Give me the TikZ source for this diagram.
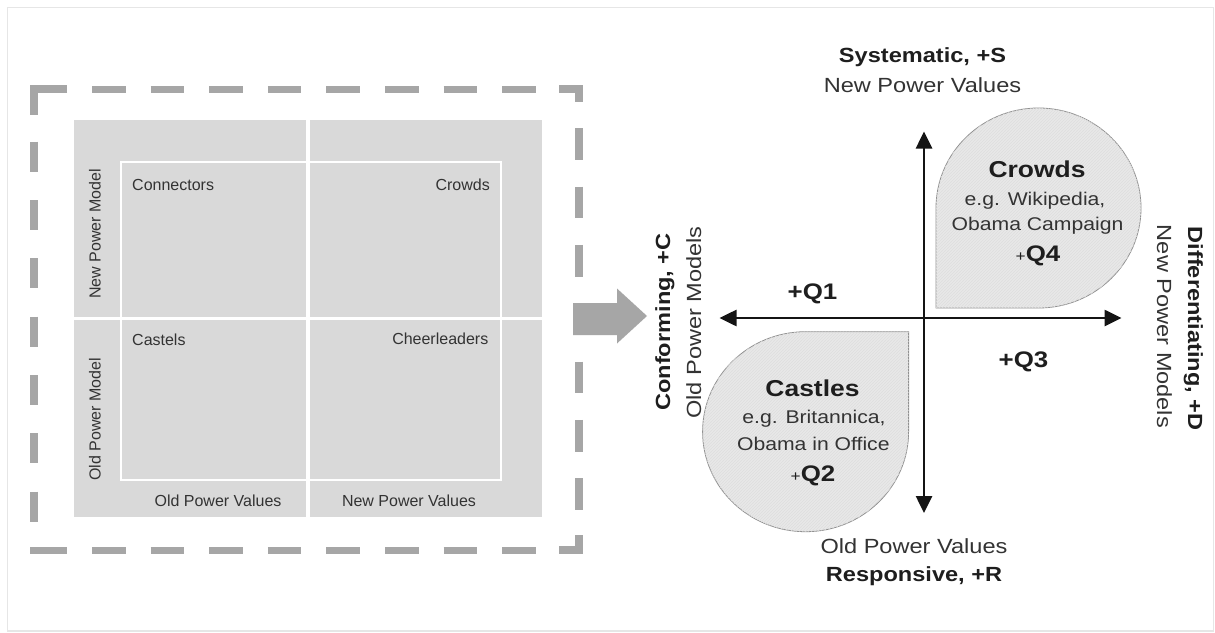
\documentclass[tikz,border=0pt]{standalone}
\usepackage{fontspec}
\setmainfont{Liberation Sans}
\newfontfamily\widefont[FakeStretch=1.15]{Liberation Sans}
\usetikzlibrary{arrows.meta,patterns}
\definecolor{dashgray}{HTML}{A6A6A6}
\definecolor{panelgray}{HTML}{D9D9D9}
\definecolor{framegray}{HTML}{E6E6E6}
\definecolor{dropfill}{HTML}{E8E8E8}
\definecolor{dropline}{HTML}{909090}
\definecolor{txt}{HTML}{1E1E1E}
\definecolor{txtsoft}{HTML}{333333}
\begin{document}
\begin{tikzpicture}[x=1pt,y=-1pt,
  small/.style={font=\fontsize{16}{19}\selectfont, text=txtsoft, inner sep=0pt},
  axlab/.style={font=\widefont\fontsize{20.5}{24}\selectfont, text=txtsoft, inner sep=0pt},
  axbold/.style={font=\widefont\bfseries\fontsize{20.5}{24}\selectfont, text=txt, inner sep=0pt},
  droptitle/.style={font=\widefont\bfseries\fontsize{23}{27}\selectfont, text=txt, inner sep=0pt},
  dropbody/.style={font=\widefont\fontsize{18.4}{22}\selectfont, text=txtsoft, inner sep=0pt},
  qlab/.style={font=\widefont\bfseries\fontsize{22.5}{27}\selectfont, text=txt, inner sep=0pt},
  drop/.style={draw=dropline, line width=0.8pt, fill=dropfill, postaction={pattern=north east lines, pattern color=black!13}},
  axisline/.style={line width=2.6pt, draw=black!92, {Triangle[length=17pt,width=16pt]}-{Triangle[length=17pt,width=16pt]}},
  hdash/.style={draw=dashgray, line width=7pt},
  vdash/.style={draw=dashgray, line width=7.5pt},
]
\useasboundingbox (0,0) rectangle (1215,632);
\fill[white] (0,0) rectangle (1215,632);
\draw[framegray, line width=1.6pt] (7.5,7.5) rectangle (1213.5,630.8);

% ---- dashed frame ----
\draw[vdash, miter limit=10] (67,89) -- (34,89) -- (34,115);
\draw[vdash, miter limit=10] (559,89) -- (579,89) -- (579,101.7);
\draw[vdash, miter limit=10] (579,535) -- (579,550) -- (559,550);
\draw[hdash] (30.25,550) -- (67,550);
\foreach \k in {0,...,7}{
  \draw[hdash] ({92+58.6*\k},89) -- ({125.5+58.6*\k},89);
  \draw[hdash] ({92+58.6*\k},550) -- ({125.5+58.6*\k},550);
}
\foreach \k in {0,...,6}{
  \draw[vdash] (34,{141.7+58.33*\k}) -- (34,{171.7+58.33*\k});
  \draw[vdash] (579,{128.3+58.33*\k}) -- (579,{160+58.33*\k});
}

% ---- left matrix ----
\fill[panelgray] (74,120) rectangle (542,517);
\draw[white, line width=3.5pt] (308,120) -- (308,517);
\draw[white, line width=3pt] (74,318.5) -- (542,318.5);
\draw[white, line width=1.4pt] (121,162) rectangle (501,480);
\node[small, anchor=base west] (conn) at (132,190) {Connectors};
\node[small, anchor=base east] (crowdsA) at (490,190) {Crowds};
\node[small, anchor=base west] (castels) at (132,345) {Castels};
\node[small, anchor=base east] (cheer) at (488.5,344) {Cheerleaders};
\node[small, anchor=base, rotate=90] (npm) at (100.5,234) {New Power Model};
\node[small, anchor=base, rotate=90] (opm) at (100.5,419.5) {Old Power Model};
\node[small, anchor=base] (opvA) at (218,506) {Old Power Values};
\node[small, anchor=base] (npvA) at (409,506) {New Power Values};

% ---- big arrow ----
\fill[dashgray] (573,303) -- (617,303) -- (617,288.5) -- (647,316) -- (617,343.5) -- (617,335) -- (573,335) -- cycle;

% ---- right diagram ----
\draw[drop] (936,308) -- (936,208) arc[start angle=180, end angle=450, x radius=102.5, y radius=100] -- cycle;
\draw[drop] (908.6,331.7) -- (908.6,431.7) arc[start angle=0, end angle=270, x radius=103, y radius=100] -- cycle;

\coordinate (axL) at (719.5,318);
\coordinate (axR) at (1121.5,318);
\coordinate (axT) at (924,131.5);
\coordinate (axB) at (924,513);
\draw[axisline] (axL) -- (axR);
\draw[axisline] (axT) -- (axB);

\node[axbold, anchor=base] (sys) at (922.5,62) {Systematic, +S};
\node[axlab, anchor=base] (npvT) at (922.5,92) {New Power Values};
\node[axlab, anchor=base] (opvB) at (914,553) {Old Power Values};
\node[axbold, anchor=base] (resp) at (914,581.5) {Responsive, +R};
\node[axbold, anchor=base, rotate=90] (conf) at (670,322) {Conforming, +C};
\node[axlab, anchor=base, rotate=90] (opmR) at (701,322.5) {Old Power Models};
\node[axbold, anchor=base, rotate=-90] (diff) at (1188,328.5) {Differentiating, +D};
\node[axlab, anchor=base, rotate=-90] (npmR) at (1157,326.5) {New Power Models};

\node[qlab, anchor=base] (q1) at (812.5,299) {+Q1};
\node[qlab, anchor=base] (q3) at (1023.5,367) {+Q3};

\node[droptitle, anchor=base] (crowdsT) at (1037,177.5) {Crowds};
\node[dropbody, anchor=base] (crowdsE1) at (1035,205) {e.g. Wikipedia,};
\node[dropbody, anchor=base] (crowdsE2) at (1037.5,230) {Obama Campaign};
\node[qlab, anchor=base] (q4) at (1038,261.7) {{\mdseries\fontsize{15}{18}\selectfont +}Q4};

\node[droptitle, anchor=base] (castlesT) at (812.5,396) {Castles};
\node[dropbody, anchor=base] (castlesE1) at (814,423.3) {e.g. Britannica,};
\node[dropbody, anchor=base] (castlesE2) at (813.3,450) {Obama in Office};
\node[qlab, anchor=base] (q2) at (813,481) {{\mdseries\fontsize{15}{18}\selectfont +}Q2};
\end{tikzpicture}
\end{document}
